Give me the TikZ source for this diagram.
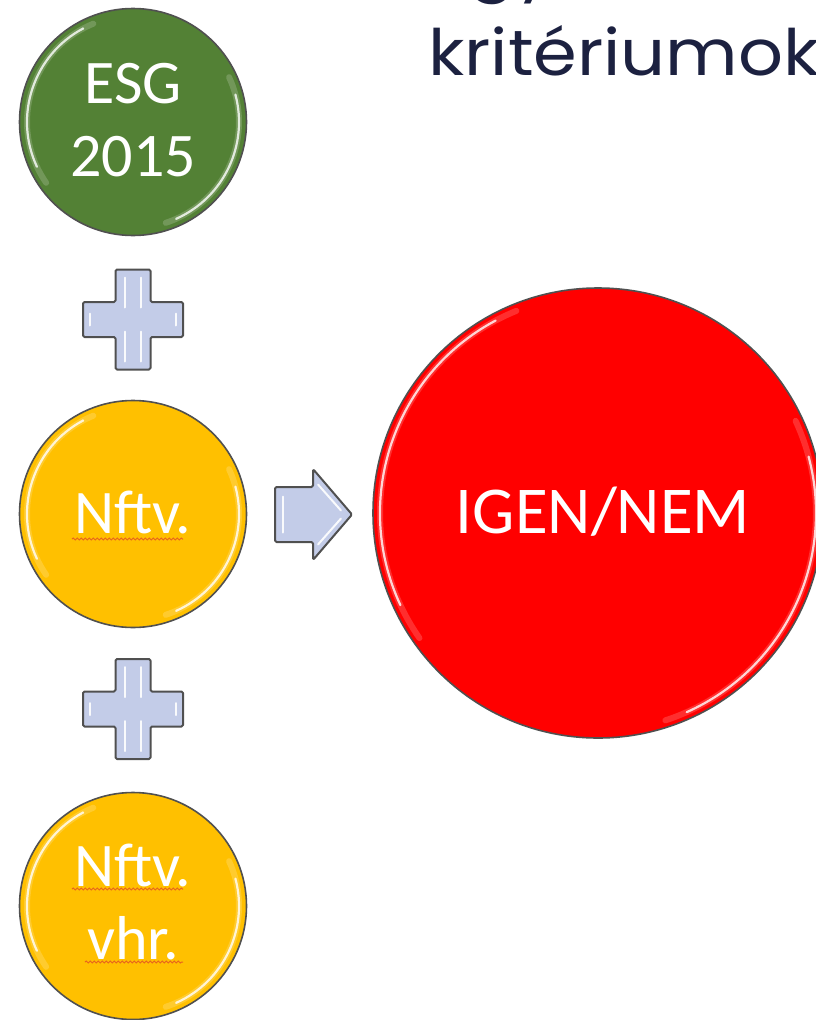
\documentclass[tikz,border=0pt]{standalone}
\usepackage{fontspec}
\setmainfont{Carlito}
\newfontfamily\titlefont{Poppins}
\usetikzlibrary{calc,decorations.pathmorphing}
\definecolor{esggreen}{HTML}{538135}
\definecolor{nftvyellow}{HTML}{FFC000}
\definecolor{igenred}{HTML}{FF0000}
\definecolor{blockfill}{HTML}{C3CCE8}
\definecolor{rimgray}{HTML}{505050}
\definecolor{titlenavy}{HTML}{1C2140}
\definecolor{squigglecol}{HTML}{E8641E}
\newcommand\ballgloss[2]{%
  \draw[glosssoft] ($(#1.center)+(-112:#2)$) arc[start angle=-112, end angle=-215, radius=#2];
  \draw[glosssoft] ($(#1.center)+(72:#2)$) arc[start angle=72, end angle=-25, radius=#2];
  \draw[glosslight] ($(#1.center)+(-118:#2)$) arc[start angle=-118, end angle=-205, radius=#2];
  \draw[glosslight] ($(#1.center)+(66:#2)$) arc[start angle=66, end angle=-15, radius=#2];
}
\begin{document}
\begin{tikzpicture}[x=1pt,y=-1pt,
  ball/.style={circle, draw=rimgray, line width=1.6pt, inner sep=0pt},
  smallball/.style={ball, minimum size=227pt},
  bigball/.style={ball, minimum size=450pt},
  balltext/.style={text=white, align=center, inner sep=0pt, font=\fontsize{62}{73}\selectfont},
  glosslight/.style={white, line width=2.2pt, opacity=0.8, line cap=round},
  glosssoft/.style={white, line width=6pt, opacity=0.18, line cap=round},
  block/.style={fill=blockfill, draw=rimgray, line width=2pt, rounded corners=1.5pt, line join=round},
  blockshine/.style={white, line width=2pt, opacity=0.9, line cap=round},
  squiggle/.style={squigglecol, line width=1pt, decorate, decoration={snake, amplitude=1pt, segment length=4pt}},
  titletext/.style={anchor=base west, inner sep=0pt, text=titlenavy, xscale=1.1, font=\titlefont\fontsize{64}{78}\selectfont}]
\useasboundingbox (0,0) rectangle (816,1020);
\clip (0,0) rectangle (816,1020);
\fill[white] (0,0) rectangle (816,1020);

% title fragments
\node[titletext] (titleA) at (468,-13) {gy};
\node[titletext] (titleB) at (428,75) {kritériumok};

% circles
\node[smallball, fill=esggreen] (esg) at (133,122) {};
\ballgloss{esg}{106}
\node[balltext] (esgtext) at (133,120) {ESG\\2015};

\node[smallball, fill=nftvyellow] (nftv) at (133,514) {};
\ballgloss{nftv}{106}
\node[balltext] (nftvtext) at (133,512) {Nftv.};

\node[smallball, fill=nftvyellow] (vhr) at (133,906) {};
\ballgloss{vhr}{106}
\node[balltext] (vhrtext) at (133,902) {Nftv.\\vhr.};

\node[bigball, fill=igenred] (igen) at (598,513) {};
\ballgloss{igen}{218}
\node[balltext, font=\fontsize{67}{80}\selectfont] (igentext) at (603,512) {IGEN/NEM};

% spelling squiggles
\draw[squiggle] ($(nftv.center)+(-61,25)$) -- ($(nftv.center)+(50,25)$);
\draw[squiggle] ($(vhr.center)+(-61,-17)$) -- ($(vhr.center)+(50,-17)$);
\draw[squiggle] ($(vhr.center)+(-48,56)$) -- ($(vhr.center)+(50,56)$);

% plus signs
\coordinate (plusA) at (133,319.5);
\coordinate (plusB) at (133,709);
\foreach \p in {plusA,plusB}{
  \draw[block] ($(\p)+(-17.5,-50)$) -- ++(35,0) -- ++(0,32.5) -- ++(32.5,0) -- ++(0,35)
    -- ++(-32.5,0) -- ++(0,32.5) -- ++(-35,0) -- ++(0,-32.5) -- ++(-32.5,0) -- ++(0,-35)
    -- ++(32.5,0) -- cycle;
  \draw[blockshine] ($(\p)+(-8,-42)$) -- ($(\p)+(-8,-12)$);
  \draw[blockshine] ($(\p)+(8,-42)$) -- ($(\p)+(8,-12)$);
  \draw[blockshine] ($(\p)+(-8,12)$) -- ($(\p)+(-8,42)$);
  \draw[blockshine] ($(\p)+(8,12)$) -- ($(\p)+(8,42)$);
  \draw[blockshine] ($(\p)+(-43,-6)$) -- ($(\p)+(-43,6)$);
  \draw[blockshine] ($(\p)+(43,-6)$) -- ($(\p)+(43,6)$);
}

% arrow
\coordinate (arr) at (313,514.5);
\draw[block] ($(arr)+(-38,-27.5)$) -- ($(arr)+(0,-27.5)$) -- ($(arr)+(0,-45.5)$)
  -- ($(arr)+(39,0)$) -- ($(arr)+(0,45.5)$) -- ($(arr)+(0,27.5)$)
  -- ($(arr)+(-38,27.5)$) -- cycle;
\draw[blockshine] ($(arr)+(-30,-18)$) -- ($(arr)+(-30,18)$);
\draw[blockshine] ($(arr)+(5,-30)$) -- ($(arr)+(28,-4)$);
\draw[blockshine] ($(arr)+(5,30)$) -- ($(arr)+(28,4)$);
\end{tikzpicture}
\end{document}
